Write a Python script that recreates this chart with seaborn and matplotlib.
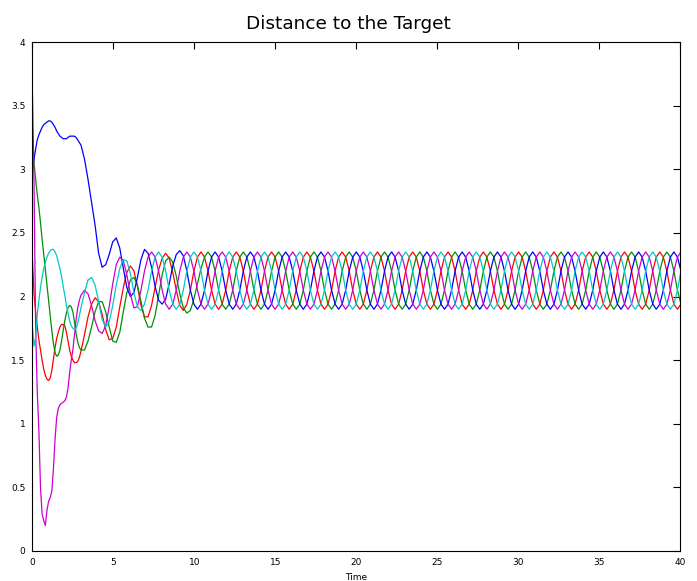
import matplotlib
matplotlib.use("Agg")
import matplotlib.pyplot as plt
import matplotlib.ticker as mticker
import seaborn as sns
import pandas as pd

# ---------------- data ----------------
time_early = [0.0, 0.1, 0.2, 0.3, 0.4, 0.5, 0.6, 0.7, 0.8, 0.9,
              1.0, 1.1, 1.2, 1.3, 1.4, 1.5, 1.6, 1.7, 1.8, 1.9,
              2.0, 2.1, 2.2, 2.3, 2.4, 2.5, 2.6, 2.7, 2.8, 2.9]
time_late = [3.000, 3.218, 3.436, 3.654, 3.872, 4.090, 4.308, 4.526, 4.744, 4.962,
             5.180, 5.398, 5.616, 5.834, 6.052, 6.270, 6.488, 6.706, 6.924, 7.142,
             7.360, 7.578, 7.796, 8.014, 8.232, 8.450, 8.668, 8.886, 9.104, 9.322,
             9.540, 9.758, 9.976, 10.194, 10.412, 10.630, 10.848, 11.066, 11.284, 11.502,
             11.720, 11.938, 12.156, 12.374, 12.592, 12.810, 13.028, 13.246, 13.464, 13.682,
             13.900, 14.118, 14.336, 14.554, 14.772, 14.990, 15.208, 15.426, 15.644, 15.862,
             16.080, 16.298, 16.516, 16.734, 16.952, 17.170, 17.388, 17.606, 17.824, 18.042,
             18.260, 18.478, 18.696, 18.914, 19.132, 19.350, 19.568, 19.786, 20.004, 20.222,
             20.440, 20.658, 20.876, 21.094, 21.312, 21.530, 21.748, 21.966, 22.184, 22.402,
             22.620, 22.838, 23.056, 23.274, 23.492, 23.710, 23.928, 24.146, 24.364, 24.582,
             24.800, 25.018, 25.236, 25.454, 25.672, 25.890, 26.108, 26.326, 26.544, 26.762,
             26.980, 27.198, 27.416, 27.634, 27.852, 28.070, 28.288, 28.506, 28.724, 28.942,
             29.160, 29.378, 29.596, 29.814, 30.032, 30.250, 30.468, 30.686, 30.904, 31.122,
             31.340, 31.558, 31.776, 31.994, 32.212, 32.430, 32.648, 32.866, 33.084, 33.302,
             33.520, 33.738, 33.956, 34.174, 34.392, 34.610, 34.828, 35.046, 35.264, 35.482,
             35.700, 35.918, 36.136, 36.354, 36.572, 36.790, 37.008, 37.226, 37.444, 37.662,
             37.880, 38.098, 38.316, 38.534, 38.752, 38.970, 39.188, 39.406, 39.624, 39.842,
             40.060]
time = time_early + time_late

red = [2.30, 2.02, 1.88, 1.76, 1.66, 1.58, 1.50, 1.43, 1.38, 1.35,
       1.34, 1.36, 1.42, 1.51, 1.60, 1.67, 1.72, 1.76, 1.78, 1.78,
       1.77, 1.72, 1.65, 1.58, 1.53, 1.50, 1.48, 1.48, 1.49, 1.52,
       1.57, 1.70, 1.84, 1.94, 1.99, 1.96, 1.86, 1.74, 1.66, 1.67,
       1.76, 1.92, 2.07, 2.19, 2.24, 2.20, 2.08, 1.93, 1.84, 1.84,
       1.93, 2.07, 2.21, 2.30, 2.34, 2.30, 2.19, 2.05, 1.93, 1.89,
       1.94, 2.05, 2.2, 2.31, 2.35, 2.31, 2.2, 2.05, 1.94, 1.9,
       1.94, 2.05, 2.2, 2.31, 2.35, 2.31, 2.2, 2.05, 1.94, 1.9,
       1.94, 2.05, 2.2, 2.31, 2.35, 2.31, 2.2, 2.05, 1.94, 1.9,
       1.94, 2.05, 2.2, 2.31, 2.35, 2.31, 2.2, 2.05, 1.94, 1.9,
       1.94, 2.05, 2.2, 2.31, 2.35, 2.31, 2.2, 2.05, 1.94, 1.9,
       1.94, 2.05, 2.2, 2.31, 2.35, 2.31, 2.2, 2.05, 1.94, 1.9,
       1.94, 2.05, 2.2, 2.31, 2.35, 2.31, 2.2, 2.05, 1.94, 1.9,
       1.94, 2.05, 2.2, 2.31, 2.35, 2.31, 2.2, 2.05, 1.94, 1.9,
       1.94, 2.05, 2.2, 2.31, 2.35, 2.31, 2.2, 2.05, 1.94, 1.9,
       1.94, 2.05, 2.2, 2.31, 2.35, 2.31, 2.2, 2.05, 1.94, 1.9,
       1.94, 2.05, 2.2, 2.31, 2.35, 2.31, 2.2, 2.05, 1.94, 1.9,
       1.94, 2.05, 2.2, 2.31, 2.35, 2.31, 2.2, 2.05, 1.94, 1.9,
       1.94, 2.05, 2.2, 2.31, 2.35, 2.31, 2.2, 2.05, 1.94, 1.9,
       1.94, 2.05, 2.2, 2.31, 2.35, 2.31, 2.2, 2.05, 1.94, 1.9,
       1.94]

green = [3.30, 3.05, 2.92, 2.80, 2.70, 2.58, 2.45, 2.33, 2.21, 2.09,
         1.97, 1.85, 1.73, 1.63, 1.56, 1.53, 1.54, 1.58, 1.65, 1.73,
         1.81, 1.87, 1.91, 1.93, 1.92, 1.88, 1.80, 1.71, 1.64, 1.60,
         1.58, 1.58, 1.65, 1.76, 1.88, 1.96, 1.96, 1.88, 1.76, 1.65,
         1.64, 1.72, 1.88, 2.03, 2.13, 2.15, 2.09, 1.96, 1.83, 1.76,
         1.76, 1.85, 2.01, 2.17, 2.28, 2.31, 2.27, 2.16, 2.02, 1.91,
         1.87, 1.89, 1.98, 2.10, 2.22, 2.31, 2.35, 2.31, 2.2, 2.05,
         1.94, 1.9, 1.94, 2.05, 2.2, 2.31, 2.35, 2.31, 2.2, 2.05,
         1.94, 1.9, 1.94, 2.05, 2.2, 2.31, 2.35, 2.31, 2.2, 2.05,
         1.94, 1.9, 1.94, 2.05, 2.2, 2.31, 2.35, 2.31, 2.2, 2.05,
         1.94, 1.9, 1.94, 2.05, 2.2, 2.31, 2.35, 2.31, 2.2, 2.05,
         1.94, 1.9, 1.94, 2.05, 2.2, 2.31, 2.35, 2.31, 2.2, 2.05,
         1.94, 1.9, 1.94, 2.05, 2.2, 2.31, 2.35, 2.31, 2.2, 2.05,
         1.94, 1.9, 1.94, 2.05, 2.2, 2.31, 2.35, 2.31, 2.2, 2.05,
         1.94, 1.9, 1.94, 2.05, 2.2, 2.31, 2.35, 2.31, 2.2, 2.05,
         1.94, 1.9, 1.94, 2.05, 2.2, 2.31, 2.35, 2.31, 2.2, 2.05,
         1.94, 1.9, 1.94, 2.05, 2.2, 2.31, 2.35, 2.31, 2.2, 2.05,
         1.94, 1.9, 1.94, 2.05, 2.2, 2.31, 2.35, 2.31, 2.2, 2.05,
         1.94, 1.9, 1.94, 2.05, 2.2, 2.31, 2.35, 2.31, 2.2, 2.05,
         1.94, 1.9, 1.94, 2.05, 2.2, 2.31, 2.35, 2.31, 2.2, 2.05,
         1.94]

blue = [3.00, 3.08, 3.16, 3.23, 3.27, 3.30, 3.33, 3.35, 3.36, 3.37,
        3.38, 3.38, 3.37, 3.35, 3.33, 3.30, 3.28, 3.26, 3.25, 3.24,
        3.24, 3.24, 3.25, 3.26, 3.26, 3.26, 3.26, 3.25, 3.23, 3.21,
        3.19, 3.08, 2.92, 2.74, 2.56, 2.34, 2.23, 2.25, 2.33, 2.43,
        2.46, 2.38, 2.22, 2.07, 2.00, 2.03, 2.15, 2.29, 2.37, 2.34,
        2.23, 2.08, 1.97, 1.94, 1.98, 2.10, 2.24, 2.33, 2.36, 2.32,
        2.2, 2.05, 1.94, 1.9, 1.94, 2.05, 2.2, 2.31, 2.35, 2.31,
        2.2, 2.05, 1.94, 1.9, 1.94, 2.05, 2.2, 2.31, 2.35, 2.31,
        2.2, 2.05, 1.94, 1.9, 1.94, 2.05, 2.2, 2.31, 2.35, 2.31,
        2.2, 2.05, 1.94, 1.9, 1.94, 2.05, 2.2, 2.31, 2.35, 2.31,
        2.2, 2.05, 1.94, 1.9, 1.94, 2.05, 2.2, 2.31, 2.35, 2.31,
        2.2, 2.05, 1.94, 1.9, 1.94, 2.05, 2.2, 2.31, 2.35, 2.31,
        2.2, 2.05, 1.94, 1.9, 1.94, 2.05, 2.2, 2.31, 2.35, 2.31,
        2.2, 2.05, 1.94, 1.9, 1.94, 2.05, 2.2, 2.31, 2.35, 2.31,
        2.2, 2.05, 1.94, 1.9, 1.94, 2.05, 2.2, 2.31, 2.35, 2.31,
        2.2, 2.05, 1.94, 1.9, 1.94, 2.05, 2.2, 2.31, 2.35, 2.31,
        2.2, 2.05, 1.94, 1.9, 1.94, 2.05, 2.2, 2.31, 2.35, 2.31,
        2.2, 2.05, 1.94, 1.9, 1.94, 2.05, 2.2, 2.31, 2.35, 2.31,
        2.2, 2.05, 1.94, 1.9, 1.94, 2.05, 2.2, 2.31, 2.35, 2.31,
        2.2, 2.05, 1.94, 1.9, 1.94, 2.05, 2.2, 2.31, 2.35, 2.31,
        2.2]

magenta = [3.62, 2.90, 1.75, 1.25, 0.95, 0.50, 0.29, 0.24, 0.20, 0.32,
           0.39, 0.42, 0.47, 0.65, 0.88, 1.05, 1.12, 1.15, 1.16, 1.17,
           1.18, 1.21, 1.28, 1.40, 1.50, 1.58, 1.70, 1.82, 1.91, 1.97,
           2.01, 2.05, 2.02, 1.93, 1.81, 1.73, 1.71, 1.77, 1.92, 2.10,
           2.25, 2.31, 2.28, 2.17, 2.02, 1.91, 1.92, 2.05, 2.2, 2.31,
           2.35, 2.31, 2.2, 2.05, 1.94, 1.9, 1.94, 2.05, 2.2, 2.31,
           2.35, 2.31, 2.2, 2.05, 1.94, 1.9, 1.94, 2.05, 2.2, 2.31,
           2.35, 2.31, 2.2, 2.05, 1.94, 1.9, 1.94, 2.05, 2.2, 2.31,
           2.35, 2.31, 2.2, 2.05, 1.94, 1.9, 1.94, 2.05, 2.2, 2.31,
           2.35, 2.31, 2.2, 2.05, 1.94, 1.9, 1.94, 2.05, 2.2, 2.31,
           2.35, 2.31, 2.2, 2.05, 1.94, 1.9, 1.94, 2.05, 2.2, 2.31,
           2.35, 2.31, 2.2, 2.05, 1.94, 1.9, 1.94, 2.05, 2.2, 2.31,
           2.35, 2.31, 2.2, 2.05, 1.94, 1.9, 1.94, 2.05, 2.2, 2.31,
           2.35, 2.31, 2.2, 2.05, 1.94, 1.9, 1.94, 2.05, 2.2, 2.31,
           2.35, 2.31, 2.2, 2.05, 1.94, 1.9, 1.94, 2.05, 2.2, 2.31,
           2.35, 2.31, 2.2, 2.05, 1.94, 1.9, 1.94, 2.05, 2.2, 2.31,
           2.35, 2.31, 2.2, 2.05, 1.94, 1.9, 1.94, 2.05, 2.2, 2.31,
           2.35, 2.31, 2.2, 2.05, 1.94, 1.9, 1.94, 2.05, 2.2, 2.31,
           2.35, 2.31, 2.2, 2.05, 1.94, 1.9, 1.94, 2.05, 2.2, 2.31,
           2.35, 2.31, 2.2, 2.05, 1.94, 1.9, 1.94, 2.05, 2.2, 2.31,
           2.35]

cyan = [1.76, 1.61, 1.68, 1.86, 1.97, 2.07, 2.15, 2.22, 2.27, 2.31,
        2.34, 2.36, 2.37, 2.37, 2.35, 2.32, 2.27, 2.22, 2.16, 2.08,
        2.01, 1.93, 1.87, 1.81, 1.77, 1.75, 1.74, 1.75, 1.79, 1.85,
        1.91, 2.03, 2.13, 2.15, 2.09, 1.96, 1.82, 1.76, 1.80, 1.93,
        2.09, 2.22, 2.29, 2.28, 2.18, 2.03, 1.92, 1.89, 1.94, 2.05,
        2.2, 2.31, 2.35, 2.31, 2.2, 2.05, 1.94, 1.9, 1.94, 2.05,
        2.2, 2.31, 2.35, 2.31, 2.2, 2.05, 1.94, 1.9, 1.94, 2.05,
        2.2, 2.31, 2.35, 2.31, 2.2, 2.05, 1.94, 1.9, 1.94, 2.05,
        2.2, 2.31, 2.35, 2.31, 2.2, 2.05, 1.94, 1.9, 1.94, 2.05,
        2.2, 2.31, 2.35, 2.31, 2.2, 2.05, 1.94, 1.9, 1.94, 2.05,
        2.2, 2.31, 2.35, 2.31, 2.2, 2.05, 1.94, 1.9, 1.94, 2.05,
        2.2, 2.31, 2.35, 2.31, 2.2, 2.05, 1.94, 1.9, 1.94, 2.05,
        2.2, 2.31, 2.35, 2.31, 2.2, 2.05, 1.94, 1.9, 1.94, 2.05,
        2.2, 2.31, 2.35, 2.31, 2.2, 2.05, 1.94, 1.9, 1.94, 2.05,
        2.2, 2.31, 2.35, 2.31, 2.2, 2.05, 1.94, 1.9, 1.94, 2.05,
        2.2, 2.31, 2.35, 2.31, 2.2, 2.05, 1.94, 1.9, 1.94, 2.05,
        2.2, 2.31, 2.35, 2.31, 2.2, 2.05, 1.94, 1.9, 1.94, 2.05,
        2.2, 2.31, 2.35, 2.31, 2.2, 2.05, 1.94, 1.9, 1.94, 2.05,
        2.2, 2.31, 2.35, 2.31, 2.2, 2.05, 1.94, 1.9, 1.94, 2.05,
        2.2, 2.31, 2.35, 2.31, 2.2, 2.05, 1.94, 1.9, 1.94, 2.05,
        2.2]

agents = ["agent 1", "agent 2", "agent 3", "agent 4", "agent 5"]
agent_colors = ["#ff0000", "#009000", "#0000ff", "#cc00cc", "#00c8c8"]
x_ticks = [0, 5, 10, 15, 20, 25, 30, 35, 40]
y_ticks = [0, 0.5, 1, 1.5, 2, 2.5, 3, 3.5, 4]
title_text = "Distance to the Target"
x_label = "Time"

# ---------------- build table ----------------
series = [red, green, blue, magenta, cyan]
rows = []
for name, vals in zip(agents, series):
    if len(vals) != len(time):
        raise ValueError(f"{name}: {len(vals)} values vs {len(time)} times")
    for t, v in zip(time, vals):
        rows.append({"time": t, "distance": v, "agent": name})
df = pd.DataFrame(rows)

# ---------------- plot ----------------
sns.set_theme(style="white")
plt.rcParams["font.family"] = ["DejaVu Sans"]

fig = plt.figure(figsize=(6.97, 5.81), dpi=100)
ax = fig.add_axes([32.4 / 697, 1 - 551 / 581, (680 - 32.4) / 697, (551 - 42) / 581])

sns.lineplot(data=df, x="time", y="distance", hue="agent", hue_order=agents,
             palette=dict(zip(agents, agent_colors)), estimator=None, sort=False,
             legend=False, linewidth=0.9, ax=ax)

ax.set_xlim(0, 40)
ax.set_ylim(0, 4)
ax.set_xticks(x_ticks)
ax.set_yticks(y_ticks)
ax.yaxis.set_major_formatter(mticker.FormatStrFormatter("%g"))
ax.set_xlabel("")
ax.set_ylabel("")
ax.tick_params(direction="in", top=True, right=True, length=5, width=0.8,
               labelsize=6.5, pad=5, colors="black")
for sp in ax.spines.values():
    sp.set_visible(True)
    sp.set_color("black")
    sp.set_linewidth(0.8)

fig.text(0.5, 1 - 24 / 581, title_text, ha="center", va="center",
         fontsize=13.3, color="black")
fig.text(356 / 697, 1 - 577 / 581, x_label, ha="center", va="center",
         fontsize=6.5, color="black")

fig.savefig("out.png", dpi=100)
